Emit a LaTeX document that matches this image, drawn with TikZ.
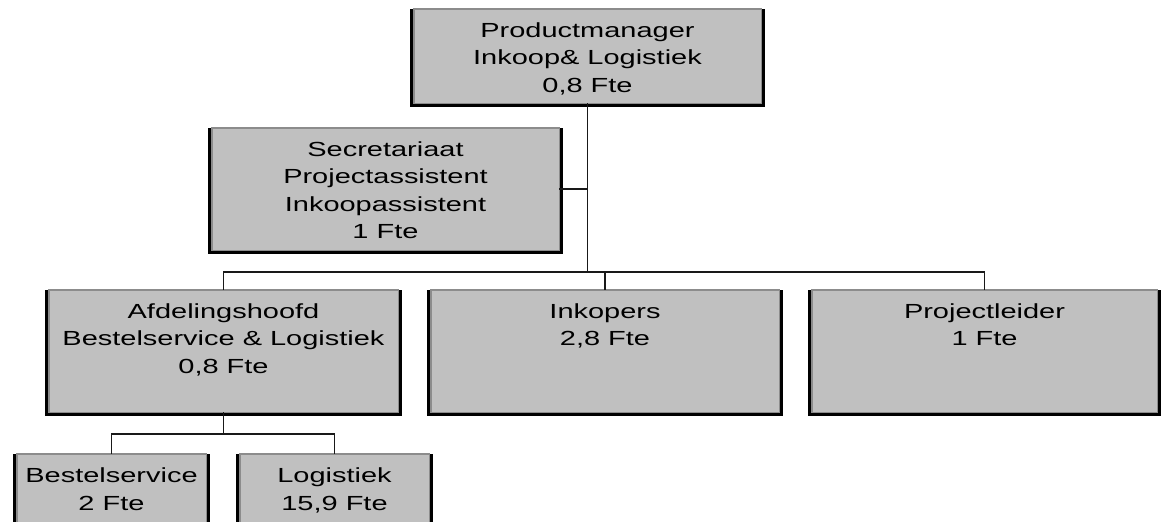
\documentclass[tikz,border=0pt]{standalone}
\usepackage{fontspec}
\setmainfont[FakeStretch=1.42]{Liberation Sans}
\definecolor{unitgray}{HTML}{C0C0C0}
\definecolor{rimgray}{HTML}{8C8C8C}
\newcommand{\unittext}[3]{\parbox[t][#2][t]{#1}{\centering\rule{0pt}{28.5pt}#3}}

\begin{document}
\begin{tikzpicture}[x=1pt,y=-1pt,
  unit/.style={draw=rimgray,fill=unitgray,line width=1.5pt,inner sep=0pt,outer sep=0pt,
    font=\fontsize{20.4}{27.5}\selectfont},
  rim/.style={line width=3pt,black},
  link/.style={line width=1.8pt,black!90}]
 \useasboundingbox (0,0) rectangle (1162,522);

 \node[unit](pm) at (587.5,56){\unittext{347.5pt}{94.5pt}{Productmanager\\Inkoop\& Logistiek\\0,8 Fte}};
 \node[unit](sec) at (385.5,189){\unittext{347.5pt}{122.5pt}{Secretariaat\\Projectassistent\\Inkoopassistent\\1 Fte}};

 \node[unit](afd) at (223.5,351){\unittext{349.5pt}{122.5pt}{Afdelingshoofd\\Bestelservice \& Logistiek\\0,8 Fte}};
 \node[unit](ink) at (605,351){\unittext{348.5pt}{122.5pt}{Inkopers\\2,8 Fte}};
 \node[unit](pl) at (984.5,351){\unittext{345.5pt}{122.5pt}{Projectleider\\1 Fte}};

 \node[unit](bs) at (111.5,494){\unittext{189.5pt}{80pt}{Bestelservice\\2 Fte}};
 \node[unit](log) at (334.5,494){\unittext{189.5pt}{80pt}{Logistiek\\15,9 Fte}};

 \foreach \u in {pm,sec,afd,ink,pl,bs,log}
  \draw[rim] ([xshift=-2.25pt]\u.north west) |- ([yshift=-2.25pt]\u.south) -| ([xshift=2.25pt]\u.north east);

 \coordinate (bus) at (587.5,272);
 \coordinate (sub) at (223.5,434);

 \draw[link] (pm.south) -- (bus);
 \draw[link] (sec.east) -- (sec.east -| bus);
 \draw[link] (afd.north) |- (bus) -| (pl.north);
 \draw[link] (ink.north) -- (ink.north |- bus);

 \draw[link] (afd.south) -- (sub);
 \draw[link] (bs.north) |- (sub) -| (log.north);
\end{tikzpicture}
\end{document}
